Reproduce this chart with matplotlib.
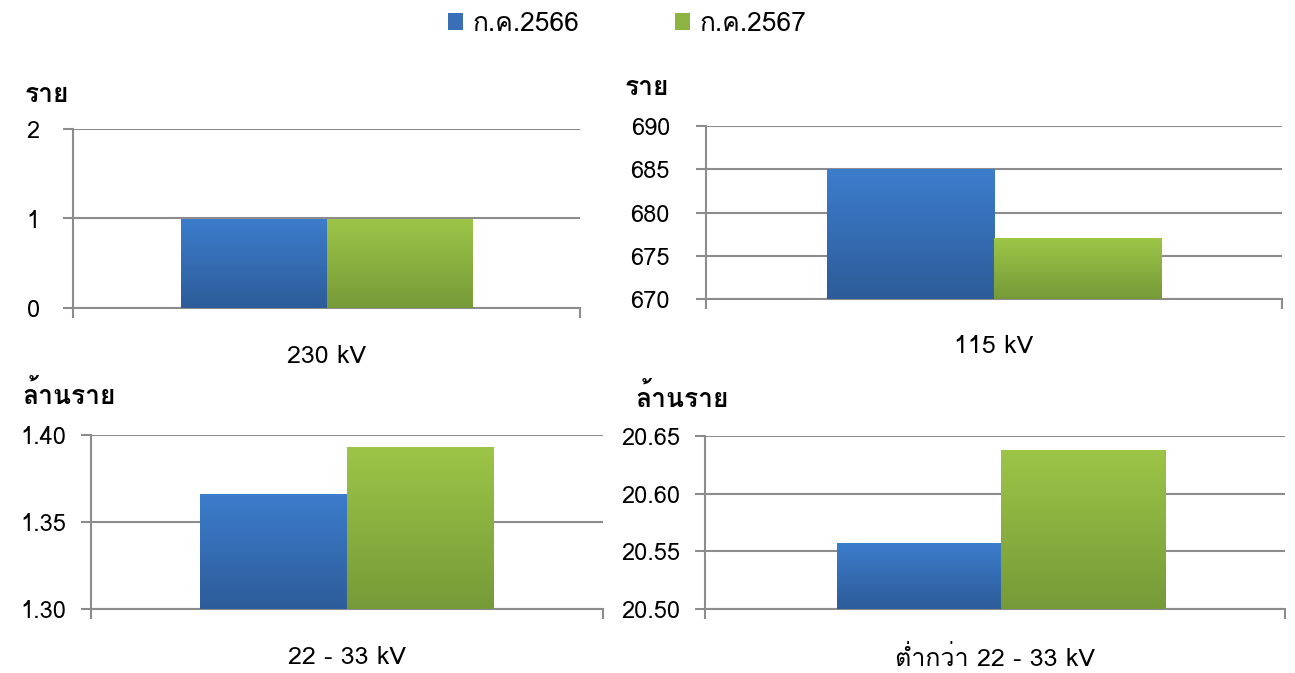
import matplotlib
matplotlib.use("Agg")
import matplotlib.pyplot as plt
import numpy as np
from matplotlib import font_manager
from matplotlib.ft2font import FT2Font
from matplotlib.patches import Patch
from matplotlib.colors import LinearSegmentedColormap


# ---------------------------------------------------------------------------
#   Data
# ---------------------------------------------------------------------------

categories = ["230 kV", "115 kV", "22 - 33 kV", "ต่ำกว่า 22 - 33 kV"]
units = ["ราย", "ราย", "ล้านราย", "ล้านราย"]
series_names = ["ก.ค.2566", "ก.ค.2567"]
jul2566 = [1, 685, 1.366, 20.557]
jul2567 = [1, 677, 1.393, 20.638]
ylims = [(0, 2), (670, 690), (1.30, 1.40), (20.50, 20.65)]
ysteps = [1, 5, 0.05, 0.05]
yfmts = ["{:.0f}", "{:.0f}", "{:.2f}", "{:.2f}"]


# ---------------------------------------------------------------------------
#   Fonts: pick something that has Thai glyphs, if anything does
# ---------------------------------------------------------------------------

def find_thai_family():
    for f in font_manager.fontManager.ttflist:
        try:
            if 0x0E23 in FT2Font(f.fname).get_charmap():
                return f.name
        except Exception:
            pass
    return None

thai = find_thai_family()
families = ["DejaVu Sans"]
if thai:
    families = [thai, "DejaVu Sans"]
plt.rcParams["font.family"] = families

W, H = 1295, 673
fig = plt.figure(figsize=(W / 100, H / 100), dpi=100)

# axes boxes in pixels: left, right, top, bottom
boxes = [(73, 580, 129, 308), (706, 1282, 126, 299),
         (91, 603, 435, 609), (705, 1285, 436, 609)]
unit_pos = [(25, 95), (625, 88), (22, 395), (635, 398)]
label_pad = [27, 26, 27, 27]
ytick_pad = [24, 26, 18, 18]
bar_w = [0.287, 0.29, 0.287, 0.283]
bar_c = [0.0, 0.0, 0.0, 0.01]

blue_cm = LinearSegmentedColormap.from_list("b", ["#2D5C99", "#3C7DCC"])
green_cm = LinearSegmentedColormap.from_list("g", ["#769A38", "#9DC547"])
grad = np.linspace(0, 1, 256).reshape(-1, 1)
grey = "#8C8C8C"

for i in range(4):
    l, r, t, b = boxes[i]
    ax = fig.add_axes([l / W, 1 - b / H, (r - l) / W, (b - t) / H])
    lo, hi = ylims[i]
    w = bar_w[i]
    c = bar_c[i]

    bars = ax.bar([c - w / 2, c + w / 2], [jul2566[i] - lo, jul2567[i] - lo],
                  width=w, bottom=lo, color="none", zorder=3)
    for p, cm in zip(bars.patches, [blue_cm, green_cm]):
        x0, y0 = p.get_x(), p.get_y()
        im = ax.imshow(grad, cmap=cm, origin="lower", aspect="auto",
                       extent=(x0, x0 + p.get_width(), y0, y0 + p.get_height()),
                       zorder=3)
        im.set_clip_path(p)
    ax.set_xlim(-0.5, 0.5)
    ax.set_ylim(lo, hi)

    yt = np.arange(lo, hi + ysteps[i] / 2, ysteps[i])
    ax.set_yticks(yt)
    ax.set_yticklabels([yfmts[i].format(v) for v in yt])
    ax.yaxis.grid(True, color=grey, linewidth=1.5, zorder=0)
    ax.set_axisbelow(True)

    ax.set_xticks([-0.5, 0.5])
    ax.set_xticklabels([])
    ax.set_xticks([0], minor=True)
    ax.set_xticklabels([categories[i]], minor=True)
    ax.tick_params(axis="x", which="major", length=7, width=1.5, color=grey, direction="out")
    ax.tick_params(axis="x", which="minor", length=0, pad=label_pad[i], labelsize=18)
    ax.tick_params(axis="y", length=7, width=1.5, color=grey, pad=ytick_pad[i] - 7,
                   labelsize=17)

    for s in ["top", "right"]:
        ax.spines[s].set_visible(False)
    for s in ["left", "bottom"]:
        ax.spines[s].set_color(grey)
        ax.spines[s].set_linewidth(1.5)

    ux, uy = unit_pos[i]
    fig.text(ux / W, 1 - uy / H, units[i], fontsize=19, fontweight="bold",
             ha="left", va="center")

handles = [Patch(facecolor="#3A6FB8"), Patch(facecolor="#8DB443")]
fig.legend(handles, series_names, loc="center", bbox_to_anchor=(627 / W, 1 - 24 / H),
           ncol=2, frameon=False, fontsize=19, handlelength=0.6, handleheight=0.6,
           handletextpad=0.35, columnspacing=3.6)

fig.savefig("out.png", dpi=100)
